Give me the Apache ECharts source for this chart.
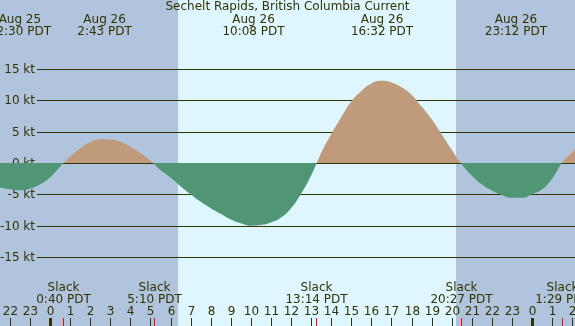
<!DOCTYPE html>
<html>
<head>
<meta charset="utf-8">
<title>Sechelt Rapids, British Columbia Current</title>
<script src="https://cdn.jsdelivr.net/npm/echarts@6/dist/echarts.min.js"></script>
<style>
  html, body { margin: 0; padding: 0; background: #b0c4de; }
  #chart { width: 575px; height: 326px; }
</style>
</head>
<body>
<div id="chart"></div>
<script>
// all times are hours counted from Aug 26 00:00 PDT, read every half hour
var curveTimes = [-2.5, -2, -1.5, -1, -0.5, 0, 0.5, 1, 1.5, 2, 2.5, 3, 3.5, 4, 4.5, 5,
  5.5, 6, 6.5, 7, 7.5, 8, 8.5, 9, 9.5, 10, 10.5, 11, 11.5, 12, 12.5, 13,
  13.5, 14, 14.5, 15, 15.5, 16, 16.5, 17, 17.5, 18, 18.5, 19, 19.5, 20, 20.5,
  21, 21.5, 22, 22.5, 23, 23.5, 24, 24.5, 25, 25.5, 26, 26.5]
// current speed in knots (flood +, ebb -)
var curveSpeeds = [-3.9, -4.2, -4.35, -4.1, -3.4, -2.3, -0.6, 1.0, 2.3, 3.3, 3.8, 3.75, 3.4, 2.6, 1.6, 0.4,
  -1.1, -2.3, -3.7, -5.0, -6.2, -7.2, -8.1, -9.0, -9.6, -10.0, -9.9, -9.5, -8.7, -7.2, -4.9, -2.0,
  1.6, 4.6, 7.3, 9.8, 11.5, 12.7, 13.1, 12.85, 12.1, 10.9, 9.0, 7.0, 4.6, 2.1, -0.2,
  -2.0, -3.4, -4.4, -5.1, -5.55, -5.55, -5.0, -4.2, -2.5, 0.05, 1.7, 3.2]

var extremeTimes = [-1.5, 2.717, 10.133, 16.533, 23.2]
var extremeDates = ['Aug 25', 'Aug 26', 'Aug 26', 'Aug 26', 'Aug 26']
var extremeLabels = ['22:30 PDT', '2:43 PDT', '10:08 PDT', '16:32 PDT', '23:12 PDT']

var slackTimes = [0.667, 5.167, 13.233, 20.45, 25.483]
var slackLabels = ['0:40 PDT', '5:10 PDT', '13:14 PDT', '20:27 PDT', '1:29 PDT']

var hourTicks = [-2, -1, 0, 1, 2, 3, 4, 5, 6, 7, 8, 9, 10, 11, 12, 13, 14, 15, 16, 17, 18, 19, 20, 21, 22, 23, 24, 25, 26]
var hourLabels = ['22', '23', '0', '1', '2', '3', '4', '5', '6', '7', '8', '9', '10', '11', '12', '13',
  '14', '15', '16', '17', '18', '19', '20', '21', '22', '23', '0', '1', '2']
var midnightTicks = [0, 24]

var speedTicks = [15, 10, 5, 0, -5, -10, -15]
var speedLabels = ['15 kt', '10 kt', '5 kt', '0 kt', '-5 kt', '-10 kt', '-15 kt']

// sunrise 6:22, sunset 20:13
var daylight = [[6.36, 20.22]]

var ink = '#333300'
var font = "12px 'DejaVu Sans'"

function txt(text, x, y, align) {
  return {
    type: 'text',
    style: {
      text: text, x: x, y: y, font: font, fill: ink,
      align: align || 'center', verticalAlign: 'middle',
      textAlign: align || 'center', textVerticalAlign: 'middle'
    }
  }
}

function crisp(v) {
  return Math.round(v) + 0.5
}

var chart = echarts.init(document.getElementById('chart'))

chart.setOption({
  backgroundColor: '#b0c4de',
  animation: false,
  title: {
    text: 'Sechelt Rapids, British Columbia Current',
    left: 'center',
    top: 1,
    padding: 0,
    textStyle: { fontSize: 12, fontWeight: 'normal', color: ink, fontFamily: 'DejaVu Sans' }
  },
  grid: { left: 0, right: 0, top: 0, bottom: 0 },
  xAxis: { type: 'value', min: -2.49, max: 26.14, show: false },
  yAxis: { type: 'value', min: -26, max: 26, show: false },
  visualMap: {
    show: false,
    type: 'piecewise',
    dimension: 1,
    seriesIndex: 2,
    // finite pieces, otherwise the line gradient gets no stops
    pieces: [
      { min: -30, max: 0, color: '#509574' },
      { min: 0, max: 30, color: '#bf9b7b' }
    ]
  },
  series: [
    {
      // daylight band
      type: 'custom',
      z: 1,
      silent: true,
      data: daylight,
      renderItem: function (params, api) {
        var cs = params.coordSys
        var x1 = Math.round(api.coord([api.value(0), 0])[0])
        var x2 = Math.round(api.coord([api.value(1), 0])[0])
        return { type: 'rect', shape: { x: x1, y: cs.y, width: x2 - x1, height: cs.height }, style: { fill: '#def6ff' } }
      }
    },
    {
      // speed grid lines + labels
      type: 'custom',
      z: 2,
      silent: true,
      data: speedTicks.map(function (v) { return [0, v] }),
      renderItem: function (params, api) {
        var cs = params.coordSys
        var y = crisp(api.coord([0, api.value(1)])[1])
        return {
          type: 'group',
          children: [
            { type: 'line', shape: { x1: 37, y1: y, x2: cs.x + cs.width, y2: y }, style: { stroke: ink, lineWidth: 1 } },
            txt(speedLabels[params.dataIndex], 35, y, 'right')
          ]
        }
      }
    },
    {
      name: 'current',
      type: 'line',
      z: 3,
      smooth: 0.5,
      symbol: 'none',
      silent: true,
      lineStyle: { width: 0 },
      areaStyle: { opacity: 1 },
      data: curveTimes.map(function (t, i) { return [t, curveSpeeds[i]] })
    },
    {
      // hour ticks along the bottom
      type: 'custom',
      z: 4,
      silent: true,
      data: hourTicks.map(function (h) { return [h, 0] }),
      renderItem: function (params, api) {
        var cs = params.coordSys
        var bottom = cs.y + cs.height
        var x = crisp(api.coord([api.value(0), 0])[0])
        var thick = midnightTicks.indexOf(api.value(0)) >= 0
        return {
          type: 'group',
          children: [
            { type: 'line', shape: { x1: x, y1: bottom - 8, x2: x, y2: bottom }, style: { stroke: ink, lineWidth: thick ? 3 : 1 } },
            txt(hourLabels[params.dataIndex], x, 312)
          ]
        }
      }
    },
    {
      // slack water marks
      type: 'custom',
      z: 5,
      silent: true,
      data: slackTimes.map(function (t) { return [t, 0] }),
      renderItem: function (params, api) {
        var cs = params.coordSys
        var bottom = cs.y + cs.height
        var x = crisp(api.coord([api.value(0), 0])[0])
        return {
          type: 'group',
          children: [
            { type: 'line', shape: { x1: x, y1: bottom - 8, x2: x, y2: bottom }, style: { stroke: '#ff0000', lineWidth: 1 } },
            txt('Slack', x, 288),
            txt(slackLabels[params.dataIndex], x, 300)
          ]
        }
      }
    },
    {
      // max flood / max ebb labels
      type: 'custom',
      z: 5,
      silent: true,
      data: extremeTimes.map(function (t) { return [t, 0] }),
      renderItem: function (params, api) {
        var x = api.coord([api.value(0), 0])[0]
        return {
          type: 'group',
          children: [
            txt(extremeDates[params.dataIndex], x, 20),
            txt(extremeLabels[params.dataIndex], x, 32)
          ]
        }
      }
    }
  ]
})
</script>
</body>
</html>
